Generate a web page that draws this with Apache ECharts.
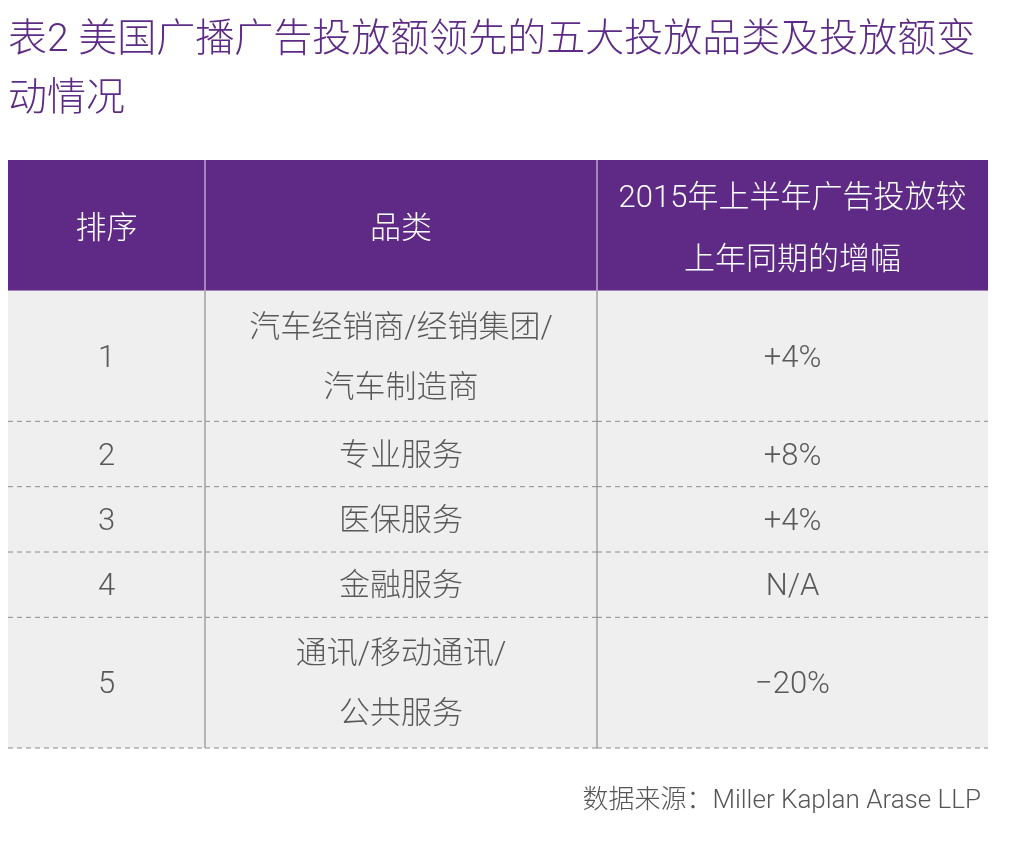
<!DOCTYPE html>
<html>
<head>
<meta charset="utf-8">
<script src="https://cdn.jsdelivr.net/npm/echarts@6/dist/echarts.min.js"></script>
<style>
  html, body { margin: 0; padding: 0; background: #fff; }
  #table-container { width: 1012px; height: 844px; }
</style>
</head>
<body>
<div id="table-container"></div>
<script>
// table content
var headers = ['排序', '品类', '2015年上半年广告投放较\n上年同期的增幅'];
var ranks = ['1', '2', '3', '4', '5'];
var categories = ['汽车经销商/经销集团/\n汽车制造商', '专业服务', '医保服务', '金融服务', '通讯/移动通讯/\n公共服务'];
var changes = ['+4%', '+8%', '+4%', 'N/A', '−20%'];

// layout: row heights in text-line units (header first), column widths
var rowSpans = [2, 2, 1, 1, 1, 2];
var colWidths = [197, 392, 391];

var FONT = 'Roboto, "Noto Sans CJK SC", "Noto Sans", sans-serif';

// build cells [x0, x1, y0, y1]
var cells = [];
var y = 0;
rowSpans.forEach(function (span, r) {
  var x = 0;
  colWidths.forEach(function (w, c) {
    var text = r === 0 ? headers[c] : [ranks, categories, changes][c][r - 1];
    cells.push({ value: [x, x + w, y, y + span], text: text, header: r === 0, lastCol: c === colWidths.length - 1 });
    x += w;
  });
  y += span;
});
var totalW = colWidths.reduce(function (a, b) { return a + b; }, 0);
var totalH = y;

var dom = document.getElementById('table-container');
var myChart = echarts.init(dom, null, { renderer: 'canvas' });
var option;

option = {
  backgroundColor: '#ffffff',
  animation: false,
  title: [
    {
      text: '表2 美国广播广告投放额领先的五大投放品类及投放额变\n动情况',
      left: 8,
      top: 12,
      padding: 0,
      textStyle: {
        color: '#5d2b85',
        fontSize: 39,
        fontWeight: 300,
        lineHeight: 59,
        fontFamily: FONT
      }
    },
    {
      text: '数据来源：Miller Kaplan Arase LLP',
      right: 31,
      top: 788,
      padding: 0,
      textStyle: {
        color: '#555555',
        fontSize: 26,
        fontWeight: 300,
        fontFamily: FONT
      }
    }
  ],
  grid: { left: 8, right: 24, top: 160, bottom: 96 },
  xAxis: { type: 'value', min: 0, max: totalW, show: false },
  yAxis: { type: 'value', min: 0, max: totalH, inverse: true, show: false },
  series: [
    {
      type: 'custom',
      coordinateSystem: 'cartesian2d',
      encode: { x: [0, 1], y: [2, 3] },
      data: cells.map(function (c) { return c.value; }),
      renderItem: function (params, api) {
        var cell = cells[params.dataIndex];
        var p0 = api.coord([api.value(0), api.value(2)]);
        var p1 = api.coord([api.value(1), api.value(3)]);
        var children = [
          {
            type: 'rect',
            shape: { x: p0[0], y: p0[1], width: p1[0] - p0[0], height: p1[1] - p0[1] },
            style: { fill: cell.header ? '#5f2a86' : '#efefef' }
          },
          {
            type: 'text',
            z2: 10,
            style: {
              text: cell.text,
              x: (p0[0] + p1[0]) / 2,
              y: (p0[1] + p1[1]) / 2 + (cell.header ? 5 : 3),
              align: 'center',
              verticalAlign: 'middle',
              fill: cell.header ? '#ffffff' : '#595959',
              fontSize: 31,
              fontWeight: 300,
              lineHeight: cell.header ? 62 : 60,
              fontFamily: FONT
            }
          }
        ];
        if (!cell.lastCol) {
          children.push({
            type: 'line',
            z2: 5,
            shape: { x1: p1[0], y1: p0[1], x2: p1[0], y2: p1[1] },
            style: { stroke: cell.header ? '#e8e0ef' : '#7a7a7a', lineWidth: 1 }
          });
        }
        if (!cell.header) {
          children.push({
            type: 'line',
            z2: 6,
            shape: { x1: p0[0], y1: p1[1], x2: p1[0], y2: p1[1] },
            style: { stroke: '#8c8c8c', lineWidth: 1, lineDash: [5, 4] }
          });
        }
        return { type: 'group', children: children };
      }
    }
  ]
};

if (option && typeof option === 'object') {
  myChart.setOption(option);
}

window.addEventListener('resize', myChart.resize);
</script>
</body>
</html>
